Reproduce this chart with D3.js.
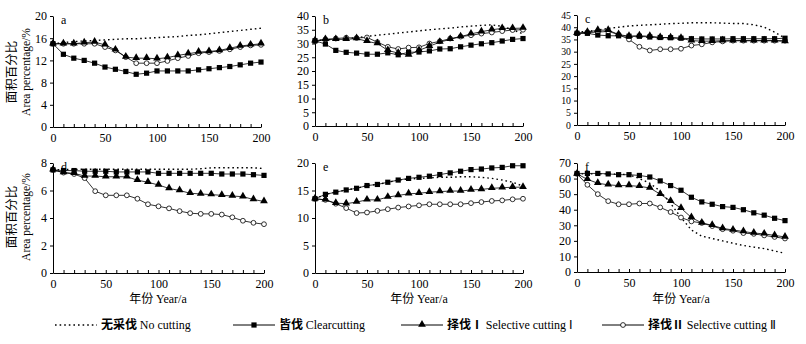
<!DOCTYPE html>
<html>
<head>
<meta charset="utf-8">
<script src="https://cdn.jsdelivr.net/npm/d3@7"></script>
<style>
  body { margin: 0; background: #fff; }
  text { font-family: "Liberation Serif", "Times New Roman", serif; fill: #000; }
  .cjk { font-family: "Noto Sans CJK SC", sans-serif; }
</style>
</head>
<body>
<script>
const years = d3.range(0, 201, 10);

// panel a
const noCutA = [15,15.2,15.4,15.5,15.6,15.7,15.8,15.9,15.9,16,16.1,16.2,16.3,16.5,16.6,16.8,17,17.2,17.4,17.6,17.8];
const clearA = [15,13.1,12.4,12.0,11.5,10.8,10.4,10.0,9.5,9.7,10.1,10.1,10.1,10.1,10.3,10.5,10.7,10.9,11.2,11.5,11.7];
const sel1A  = [15,15,15,15.2,15.3,14.8,13.9,12.6,12.4,12.4,12.3,12.5,12.9,13.2,13.5,13.6,13.8,14.2,14.6,14.8,15.0];
const sel2A  = [15,15,15,15,15,14.4,13.8,12.6,11.5,11.5,11.5,11.9,12.4,12.8,13.3,13.5,13.7,14.0,14.4,14.7,14.8];
// panel b
const noCutB = [31,31.3,31.5,31.8,32.1,32.6,33,33.4,33.8,34.2,34.6,35,35.3,35.6,36,36.3,36.6,36.8,36.2,35,33.5];
const clearB = [31,29.8,27.5,26.8,26.5,26.1,26.1,26.6,25.9,26.8,26.9,27.3,28,28.1,28.8,29.4,29.9,30.3,30.9,31.5,31.8];
const sel1B  = [31,31.5,31.5,31.5,31.8,30.8,30,27.5,26.5,25.8,27.5,29,30.5,31.5,32.5,33.5,34.3,35,35.5,35.5,35.6];
const sel2B  = [30.8,31.5,31.8,32.1,32,32.2,30.5,28.8,28,28.5,28.6,30,30.8,31.8,32.5,33,33.6,34,34.5,34.9,35];
// panel c
const noCutC = [38,38.3,38.8,39.5,40,40.5,40.8,41,41.2,41.5,41.6,41.8,41.8,41.8,41.7,41.5,41.5,41,40,38,35.5];
const clearC = [37.5,37.5,36.8,36.5,36.5,36.3,36.3,36,35.8,35.7,35.5,35.3,35.2,35.2,35.2,35.3,35.3,35.3,35.3,35.3,35.5];
const sel1C  = [37.5,38,38.8,38.8,37,36.3,36.5,36.3,35.8,35.7,35.5,34.5,34.3,34.3,34.5,34.5,34.5,34.5,34.5,34.5,34.2];
const sel2C  = [37.5,37.8,38,38.3,37,35,32,30.5,31,31,31.2,32.5,33,33.8,34.2,34.5,34.5,34.5,34.5,34.5,34.5];
// panel d
const noCutD = [7.5,7.52,7.53,7.55,7.55,7.55,7.55,7.55,7.55,7.55,7.55,7.55,7.55,7.55,7.58,7.65,7.65,7.65,7.65,7.65,7.6];
const clearD = [7.5,7.45,7.45,7.4,7.4,7.4,7.35,7.35,7.35,7.35,7.25,7.25,7.25,7.25,7.25,7.25,7.2,7.2,7.2,7.15,7.1];
const sel1D  = [7.5,7.3,7.25,7.05,7.05,7.0,7.0,7.0,6.75,6.6,6.4,6.15,6.0,5.8,5.75,5.7,5.65,5.6,5.55,5.35,5.2];
const sel2D  = [7.5,7.3,7.2,6.9,5.95,5.65,5.65,5.65,5.4,5.0,4.85,4.7,4.5,4.35,4.3,4.3,4.25,4.05,3.8,3.65,3.55];
// panel e
const noCutE = [13.5,14.3,14.7,15.1,15.4,15.9,16.1,16.5,16.9,17.1,17.2,17.3,17.4,17.4,17.5,17.5,17.4,17.2,16.9,16.5,15.8];
const clearE = [13.5,14.3,14.7,15.1,15.4,15.9,16.1,16.5,16.9,17.2,17.4,17.6,17.9,18.2,18.5,18.8,18.9,19.1,19.2,19.5,19.5];
const sel1E  = [13.5,13.3,12.7,12.6,12.9,13.3,13.3,13.8,14.1,14.4,14.5,14.7,14.8,14.9,14.9,15.1,15.2,15.4,15.5,15.6,15.6];
const sel2E  = [13.5,13.3,12.6,11.8,10.9,11.0,11.3,11.6,11.9,12.1,12.3,12.5,12.5,12.5,12.5,12.7,12.9,13.1,13.2,13.4,13.5];
// panel f
const noCutF = [63,63,63,63,62.8,62.5,60,57,52,44,35,27,23,21.5,20,18.5,17,16,15,13.5,12];
const clearF = [63.3,63.3,63.3,63,62.5,62.5,62,61,58.5,55.5,52.5,48,45,43.5,42,41.5,40,38,36.5,34.5,33];
const sel1F  = [63,59.5,57,56,55.5,55.5,55,54,50,45.5,41,35,31.5,30,28,27,26,25,24.5,23.5,22.5];
const sel2F  = [63,56,50,45.5,43.5,43.5,44,44,41.5,38.5,35,32.5,31.5,29.5,27.5,26.5,25,24.5,23.5,22.5,21.5];

const yTicksA = [0,4,8,12,16,20];
const yTicksB = [0,5,10,15,20,25,30,35,40];
const yTicksC = [0,5,10,15,20,25,30,35,40,45];
const yTicksD = [0,2,4,6,8];
const yTicksE = [0,5,10,15,20];
const yTicksF = [0,10,20,30,40,50,60,70];

const seriesCn = ["无采伐", "皆伐", "择伐Ⅰ", "择伐Ⅱ"];
const seriesEn = ["No cutting", "Clearcutting", "Selective cutting Ⅰ", "Selective cutting Ⅱ"];

const panels = [
  {id:"a", x0:53,  x1:261, y0:16,  y1:127, ticks:yTicksA, fs:12, s:[noCutA,clearA,sel1A,sel2A]},
  {id:"b", x0:315, x1:523, y0:16,  y1:126, ticks:yTicksB, fs:12, s:[noCutB,clearB,sel1B,sel2B]},
  {id:"c", x0:577, x1:785, y0:15,  y1:125, ticks:yTicksC, fs:9.8, s:[noCutC,clearC,sel1C,sel2C]},
  {id:"d", x0:53,  x1:264, y0:163, y1:273, ticks:yTicksD, fs:12, s:[noCutD,clearD,sel1D,sel2D]},
  {id:"e", x0:315, x1:523, y0:163, y1:273, ticks:yTicksE, fs:12, s:[noCutE,clearE,sel1E,sel2E]},
  {id:"f", x0:577, x1:785, y0:163, y1:272, ticks:yTicksF, fs:12, s:[noCutF,clearF,sel1F,sel2F]}
];

const svg = d3.select("body").append("svg")
  .attr("width", 806)
  .attr("height", 344);

function drawMarker(g, kind, cx, cy) {
  if (kind === 1) {
    g.append("rect").attr("x", cx - 2.6).attr("y", cy - 2.6)
      .attr("width", 5.2).attr("height", 5.2).attr("fill", "#000");
  } else if (kind === 2) {
    g.append("path").attr("d", d3.symbol().type(d3.symbolTriangle).size(26)())
      .attr("transform", "translate(" + cx + "," + (cy - 0.5) + ")").attr("fill", "#000");
  } else if (kind === 3) {
    g.append("circle").attr("cx", cx).attr("cy", cy).attr("r", 2.4)
      .attr("fill", "#fff").attr("stroke", "#000").attr("stroke-width", 0.8);
  }
}

panels.forEach(function(p) {
  const x = d3.scaleLinear().domain([0, 200]).range([p.x0, p.x1]);
  const y = d3.scaleLinear().domain([0, d3.max(p.ticks)]).range([p.y1, p.y0]);
  const g = svg.append("g");

  g.append("g")
    .attr("transform", "translate(0," + p.y1 + ")")
    .call(d3.axisBottom(x).tickValues(years).tickSizeInner(-3).tickSizeOuter(0).tickPadding(6)
      .tickFormat(function(d) { return d % 50 === 0 ? d : ""; }))
    .call(function(a) {
      a.selectAll("text").attr("font-size", 12).attr("font-family", "Liberation Serif, serif");
      a.selectAll("line,path").attr("stroke", "#000");
    });

  g.append("g")
    .attr("transform", "translate(" + p.x0 + ",0)")
    .call(d3.axisLeft(y).tickValues(p.ticks).tickSizeInner(3).tickSizeOuter(0).tickPadding(3))
    .call(function(a) {
      a.selectAll("text").attr("font-size", p.fs).attr("font-family", "Liberation Serif, serif");
      a.selectAll("line,path").attr("stroke", "#000");
    });

  g.append("text").attr("x", p.x0 + 8).attr("y", p.y0 + 8)
    .attr("font-size", 12).text(p.id);

  const line = d3.line().x(function(d, i) { return x(years[i]); }).y(function(d) { return y(d); });

  // draw order: no cutting, selective II, selective I, clearcutting
  [0, 3, 2, 1].forEach(function(k) {
    const vals = p.s[k];
    g.append("path").datum(vals)
      .attr("d", line)
      .attr("fill", "none")
      .attr("stroke", "#000")
      .attr("stroke-width", k === 0 ? 1.4 : 0.8)
      .attr("stroke-dasharray", k === 0 ? "1.6,3" : null);
    if (k > 0) {
      vals.forEach(function(v, i) { drawMarker(g, k, x(years[i]), y(v)); });
    }
  });
});

// y axis titles
[72, 217].forEach(function(cy) {
  svg.append("text").attr("class", "cjk")
    .attr("transform", "translate(16," + cy + ") rotate(-90)")
    .attr("text-anchor", "middle").attr("font-size", 12.5).text("面积百分比");
  svg.append("text")
    .attr("transform", "translate(30," + cy + ") rotate(-90)")
    .attr("text-anchor", "middle").attr("font-size", 11.5).text("Area percentage/%");
});

// x axis titles
[158, 419, 681].forEach(function(cx) {
  const t = svg.append("text").attr("x", cx).attr("y", 303).attr("text-anchor", "middle").attr("font-size", 12);
  t.append("tspan").attr("class", "cjk").text("年份 ");
  t.append("tspan").text("Year/a");
});

// legend
const legendX = [55, 233, 401, 602];
seriesCn.forEach(function(cn, k) {
  const lx = legendX[k], ly = 325;
  const lg = svg.append("g");
  lg.append("line").attr("x1", lx).attr("x2", lx + 42).attr("y1", ly).attr("y2", ly)
    .attr("stroke", "#000")
    .attr("stroke-width", k === 0 ? 1.4 : 1)
    .attr("stroke-dasharray", k === 0 ? "1.6,3" : null);
  drawMarker(lg, k, lx + 21, ly);
  const t = lg.append("text").attr("x", lx + 46).attr("y", ly + 4).attr("font-size", 12);
  t.append("tspan").attr("class", "cjk").attr("font-weight", "bold").text(cn + " ");
  t.append("tspan").text(seriesEn[k]);
});
</script>
</body>
</html>
